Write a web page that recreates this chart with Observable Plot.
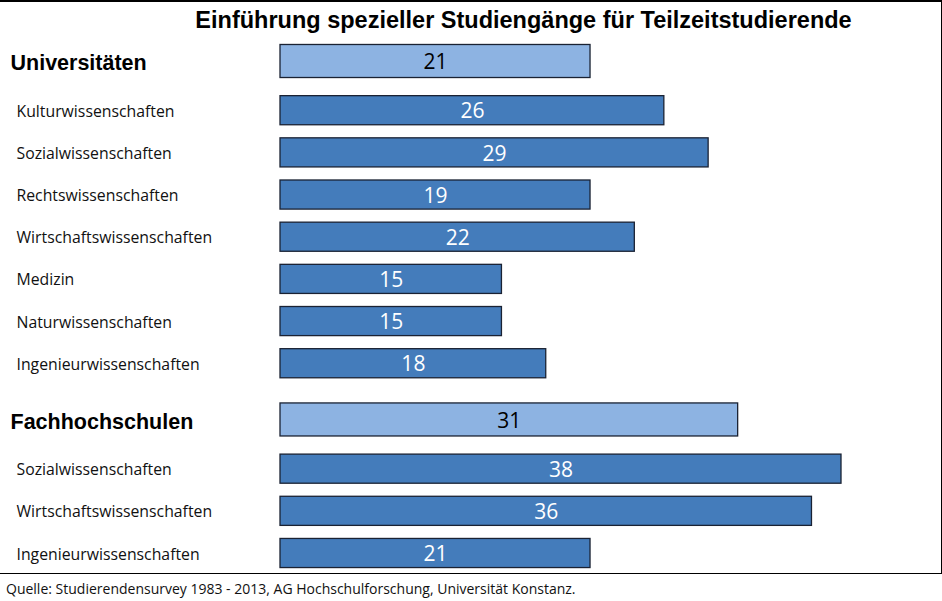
<!DOCTYPE html>
<html>
<head>
<meta charset="utf-8">
<script src="https://cdn.jsdelivr.net/npm/d3@7"></script>
<script src="https://cdn.jsdelivr.net/npm/@observablehq/plot@0.6"></script>
<style>
  body { margin: 0; background: #fff; }
  #caption { font-family: "Open Sans", sans-serif; font-size: 14px; color: #111; padding-left: 6px; margin-top: 5px; }
</style>
</head>
<body>
<div id="chart"></div>
<div id="caption">Quelle: Studierendensurvey 1983 - 2013, AG Hochschulforschung, Universität Konstanz.</div>
<script>
const title = "Einführung spezieller Studiengänge für Teilzeitstudierende";
const groups = ["Universitäten", "Fachhochschulen"];
const groupValues = [21, 31];
const uniFields = ["Kulturwissenschaften", "Sozialwissenschaften", "Rechtswissenschaften", "Wirtschaftswissenschaften", "Medizin", "Naturwissenschaften", "Ingenieurwissenschaften"];
const uniValues = [26, 29, 19, 22, 15, 15, 18];
// bar lengths as drawn in the picture (two bars are drawn longer than their labels)
const uniBarLengths = [26, 29, 21, 24, 15, 15, 18];
const fhFields = ["Sozialwissenschaften", "Wirtschaftswissenschaften", "Ingenieurwissenschaften"];
const fhValues = [38, 36, 21];
const fhBarLengths = [38, 36, 21];

// layout rows (row units): header -> first item 7, item step 6, group gap 8
const rows = [];
let pos = 0;
const groupFields = [uniFields, fhFields];
const groupVals = [uniValues, fhValues];
const groupBars = [uniBarLengths, fhBarLengths];
groups.forEach((g, gi) => {
  rows.push({label: g, value: groupValues[gi], bar: groupValues[gi], header: true, pos});
  pos += 7;
  groupFields[gi].forEach((f, i) => {
    rows.push({label: f, value: groupVals[gi][i], bar: groupBars[gi][i], header: false, pos});
    if (i < groupFields[gi].length - 1) pos += 6;
  });
  pos += 8;
});
const maxPos = rows[rows.length - 1].pos;
const hh = 2.35, hi = 2.07;

const chart = Plot.plot({
  width: 942,
  height: 574,
  marginLeft: 0, marginRight: 0, marginTop: 0, marginBottom: 0,
  x: {domain: [0, 38], range: [280, 841], axis: null},
  y: {domain: [0, maxPos], range: [61, 553], axis: null},
  style: {background: "#fff"},
  marks: [
    Plot.rectX(rows, {
      x1: 0, x2: "bar",
      y1: d => d.pos - (d.header ? hh : hi),
      y2: d => d.pos + (d.header ? hh : hi),
      fill: d => d.header ? "#8db3e2" : "#447cbb",
      stroke: "#1a2233", strokeWidth: 1.3
    }),
    Plot.text(rows, {
      x: d => d.bar / 2, y: "pos", text: d => String(d.value),
      fill: d => d.header ? "#000" : "#fff",
      fontSize: 21, fontFamily: "Open Sans", dy: 1
    }),
    Plot.text(rows.filter(d => !d.header), {
      y: "pos", text: "label", frameAnchor: "left", dx: 16, textAnchor: "start",
      fontSize: 15.8, fontFamily: "Open Sans", fill: "#111", dy: 1
    }),
    Plot.text(rows.filter(d => d.header), {
      y: "pos", text: "label", frameAnchor: "left", dx: 10, textAnchor: "start",
      fontSize: 21.5, fontWeight: "bold", fontFamily: "Liberation Sans, Arial", fill: "#000", dy: 2
    }),
    Plot.text([title], {
      frameAnchor: "top", dx: 52, dy: 20, lineAnchor: "middle", text: d => d,
      fontSize: 23.5, fontWeight: "bold", fontFamily: "Liberation Sans, Arial", fill: "#000"
    }),
    Plot.frame({anchor: "top", stroke: "#000", strokeWidth: 3}),
    Plot.frame({anchor: "right", stroke: "#000", strokeWidth: 3}),
    Plot.frame({anchor: "bottom", stroke: "#000", strokeWidth: 3})
  ]
});
document.getElementById("chart").appendChild(chart);
</script>
</body>
</html>
